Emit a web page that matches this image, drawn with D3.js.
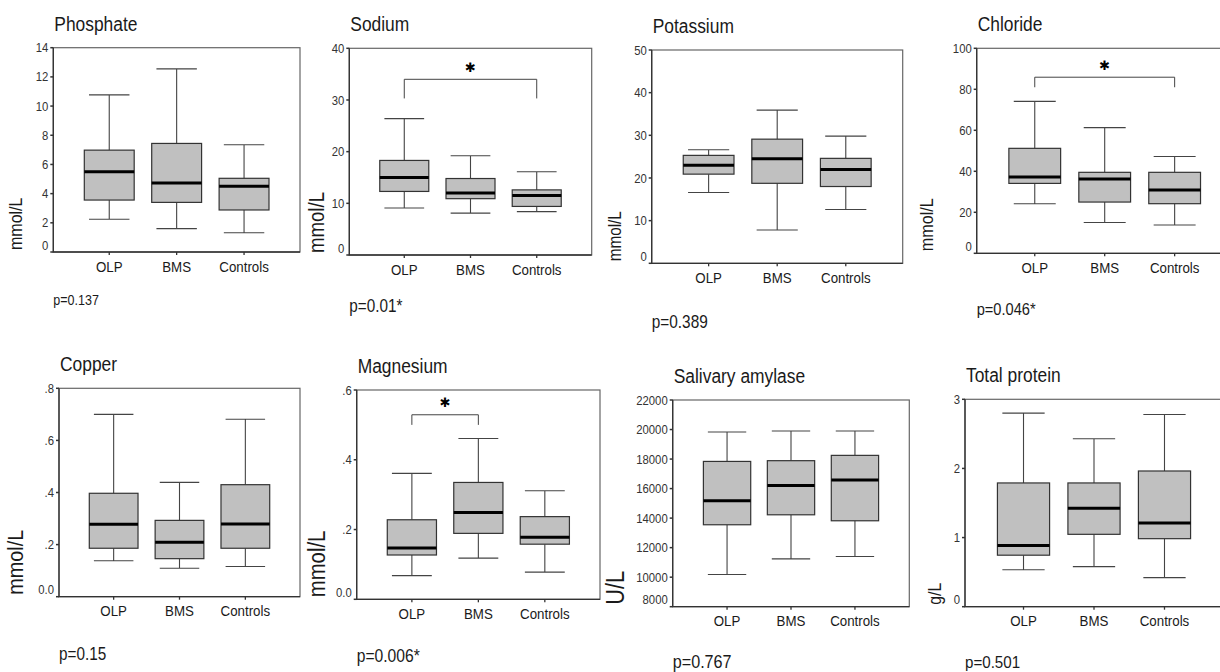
<!DOCTYPE html>
<html>
<head>
<meta charset="utf-8">
<script src="https://cdn.jsdelivr.net/npm/d3@7"></script>
<style>
  body { margin: 0; background: #fff; }
  svg { display: block; font-family: "Liberation Sans", Arial, sans-serif; }
</style>
</head>
<body>
<script>
const groups = ["OLP", "BMS", "Controls"];

// each row: [low whisker, Q1, median, Q3, high whisker]
const phosphate = [[2.24, 3.56, 5.5, 6.98, 10.77], [1.6, 3.4, 4.72, 7.44, 12.55], [1.32, 2.88, 4.5, 5.05, 7.35]];
const sodium = [[9.1, 12.3, 15.0, 18.3, 26.4], [8.1, 10.9, 12.0, 14.8, 19.2], [8.4, 9.4, 11.5, 12.6, 16.1]];
const potassium = [[16.6, 20.9, 23.0, 25.3, 26.6], [7.8, 18.75, 24.5, 29.1, 35.9], [12.6, 18.0, 22.0, 24.6, 29.8]];
const chloride = [[24.2, 34.1, 37.2, 51.2, 74.1], [15.0, 25.0, 36.3, 39.5, 61.3], [13.8, 24.2, 30.9, 39.5, 47.2]];
const copper = [[0.138, 0.186, 0.278, 0.397, 0.70], [0.109, 0.146, 0.209, 0.293, 0.439], [0.116, 0.186, 0.279, 0.43, 0.681]];
const magnesium = [[0.068, 0.127, 0.147, 0.228, 0.361], [0.118, 0.189, 0.249, 0.335, 0.461], [0.078, 0.158, 0.178, 0.237, 0.311]];
const amylase = [[10180, 13550, 15175, 17840, 19830], [11240, 14225, 16215, 17890, 19900], [11400, 13820, 16575, 18250, 19900]];
const protein = [[0.535, 0.745, 0.885, 1.79, 2.80], [0.579, 1.047, 1.423, 1.79, 2.43], [0.42, 0.984, 1.211, 1.963, 2.78]];

// y axis ticks
const phosphateTicks = [0, 2, 4, 6, 8, 10, 12, 14];
const sodiumTicks = [0, 10, 20, 30, 40];
const potassiumTicks = [0, 10, 20, 30, 40, 50];
const chlorideTicks = [0, 20, 40, 60, 80, 100];
const copperTicks = [0, 0.2, 0.4, 0.6, 0.8];
const magnesiumTicks = [0, 0.2, 0.4, 0.6];
const amylaseTicks = [8000, 10000, 12000, 14000, 16000, 18000, 20000, 22000];
const proteinTicks = [0, 1, 2, 3];

const pValues = ["p=0.137", "p=0.01*", "p=0.389", "p=0.046*", "p=0.15", "p=0.006*", "p=0.767", "p=0.501"];

// significance brackets: [from group, to group, top value, end value]
const sodiumSig = ["OLP", "Controls", 34.0, 30.3];
const chlorideSig = ["OLP", "Controls", 85.9, 81.0];
const magnesiumSig = ["OLP", "BMS", 0.529, 0.50];

const plain = (d) => String(d);
const spss = (d) => (d === 0 ? "0.0" : d3.format(".1f")(d).replace(/^0/, ""));

const panels = [
  { title: "Phosphate", unit: "mmol/L", stats: phosphate, ticks: phosphateTicks, fmt: plain, sig: null },
  { title: "Sodium", unit: "mmol/L", stats: sodium, ticks: sodiumTicks, fmt: plain, sig: sodiumSig },
  { title: "Potassium", unit: "mmol/L", stats: potassium, ticks: potassiumTicks, fmt: plain, sig: null },
  { title: "Chloride", unit: "mmol/L", stats: chloride, ticks: chlorideTicks, fmt: plain, sig: chlorideSig },
  { title: "Copper", unit: "mmol/L", stats: copper, ticks: copperTicks, fmt: spss, sig: null },
  { title: "Magnesium", unit: "mmol/L", stats: magnesium, ticks: magnesiumTicks, fmt: spss, sig: magnesiumSig },
  { title: "Salivary amylase", unit: "U/L", stats: amylase, ticks: amylaseTicks, fmt: plain, sig: null },
  { title: "Total protein", unit: "g/L", stats: protein, ticks: proteinTicks, fmt: plain, sig: null }
];

// where each small chart sits on the page
const layout = [
  { x: 53.3, y: 47.7, w: 246.7, h: 204.3, pad: 0.83, pDy: 53, pSize: 14.4, unitSize: 18.4, unitX: 15 },
  { x: 349.3, y: 48.3, w: 242.4, h: 206.7, pad: 0.83, pDy: 57, pSize: 17.6, unitSize: 21.4, unitX: 316.7 },
  { x: 651.7, y: 50, w: 251, h: 213.3, pad: 0.83, pDy: 65, pSize: 17.7, unitSize: 17.6, unitX: 615 },
  { x: 976.7, y: 48.3, w: 256, h: 205, pad: 0.83, pDy: 62, pSize: 16.8, unitSize: 18.6, unitX: 926.7 },
  { x: 59, y: 388.3, w: 241, h: 208.4, pad: 0.83, pDy: 63, pSize: 17.6, unitSize: 22.8, unitX: 15 },
  { x: 356.7, y: 390, w: 243.3, h: 209.3, pad: 0.83, pDy: 63, pSize: 18, unitSize: 23.4, unitX: 316.7 },
  { x: 672.7, y: 400, w: 236.6, h: 206.7, pad: 0.85, pDy: 61, pSize: 18.6, unitSize: 25, unitX: 615 },
  { x: 965, y: 399.3, w: 258, h: 207.4, pad: 0.83, pDy: 61, pSize: 17.4, unitSize: 18.2, unitX: 934 }
];

const squeeze = 0.87; // the source font is a narrow sans

const svg = d3
  .select("body")
  .append("svg")
  .attr("width", 1220)
  .attr("height", 672);

function label(g, str, x, y, size, opts = {}) {
  return g
    .append("text")
    .attr("transform", `translate(${x},${y})${opts.rotate ? " rotate(-90)" : ""} scale(${squeeze},1)`)
    .attr("text-anchor", opts.anchor || "start")
    .attr("dy", opts.dy || null)
    .attr("font-size", size)
    .attr("fill", opts.fill || "#1a1a1a")
    .text(str);
}

panels.forEach((p, i) => {
  const L = layout[i];
  const g = svg.append("g").attr("transform", `translate(${L.x},${L.y})`);

  const x = d3.scalePoint().domain(groups).range([0, L.w]).padding(L.pad);
  const y = d3.scaleLinear().domain(d3.extent(p.ticks)).range([L.h, 0]);
  const step = x.step();
  const boxW = step * 0.74;
  const capW = step * 0.6;

  // frame
  g.append("rect")
    .attr("width", L.w)
    .attr("height", L.h)
    .attr("fill", "none")
    .attr("stroke", "#666")
    .attr("stroke-width", 1.2);

  g.append("path")
    .attr("d", `M0,0V${L.h}H${L.w}`)
    .attr("fill", "none")
    .attr("stroke", "#333")
    .attr("stroke-width", 1.3);

  // y ticks
  g.selectAll(".yt")
    .data(p.ticks)
    .join("line")
    .attr("x1", -3)
    .attr("x2", 0)
    .attr("y1", (d) => y(d))
    .attr("y2", (d) => y(d))
    .attr("stroke", "#333")
    .attr("stroke-width", 1.5);

  p.ticks.forEach((t, k) => {
    label(g, p.fmt(t), -5, y(t) - (k === 0 ? 7 : 0), 13, { anchor: "end", dy: "0.35em", fill: "#333" });
  });

  // x ticks + labels
  g.selectAll(".xt")
    .data(groups)
    .join("line")
    .attr("x1", (d) => x(d))
    .attr("x2", (d) => x(d))
    .attr("y1", L.h)
    .attr("y2", L.h + 3)
    .attr("stroke", "#333")
    .attr("stroke-width", 1.3);

  groups.forEach((grp) => label(g, grp, x(grp), L.h + 19.5, 15.3, { anchor: "middle" }));

  // boxes
  const box = g
    .selectAll(".box")
    .data(p.stats.map((s, k) => ({ grp: groups[k], s })))
    .join("g")
    .attr("transform", (d) => `translate(${x(d.grp)},0)`);

  box.append("path")
    .attr("d", (d) => {
      const [lo, q1, , q3, hi] = d.s;
      return `M0,${y(hi)}V${y(q3)}M0,${y(q1)}V${y(lo)}` +
        `M${-capW / 2},${y(hi)}H${capW / 2}M${-capW / 2},${y(lo)}H${capW / 2}`;
    })
    .attr("fill", "none")
    .attr("stroke", "#444")
    .attr("stroke-width", 1.1);

  box.append("rect")
    .attr("x", -boxW / 2)
    .attr("width", boxW)
    .attr("y", (d) => y(d.s[3]))
    .attr("height", (d) => y(d.s[1]) - y(d.s[3]))
    .attr("fill", "#c0c0c0")
    .attr("stroke", "#333")
    .attr("stroke-width", 1.2);

  box.append("line")
    .attr("x1", -boxW / 2)
    .attr("x2", boxW / 2)
    .attr("y1", (d) => y(d.s[2]))
    .attr("y2", (d) => y(d.s[2]))
    .attr("stroke", "#000")
    .attr("stroke-width", 3);

  // significance bracket
  if (p.sig) {
    const [a, b, top, end] = p.sig;
    g.append("path")
      .attr("d", `M${x(a)},${y(end)}V${y(top)}H${x(b)}V${y(end)}`)
      .attr("fill", "none")
      .attr("stroke", "#444")
      .attr("stroke-width", 1);
    g.append("text")
      .attr("x", (x(a) + x(b)) / 2)
      .attr("y", y(top) - 12)
      .attr("dy", "0.35em")
      .attr("text-anchor", "middle")
      .attr("font-family", "DejaVu Sans")
      .attr("font-weight", "bold")
      .attr("font-size", 13)
      .text("\u2731");
  }

  // title, unit, p value
  label(g, p.title, 1, -17, 20);
  label(svg, p.unit, L.unitX + 0.36 * L.unitSize, L.y + L.h - 2, L.unitSize, { rotate: true });
  label(g, pValues[i], 0, L.h + L.pDy, L.pSize);
});
</script>
</body>
</html>
